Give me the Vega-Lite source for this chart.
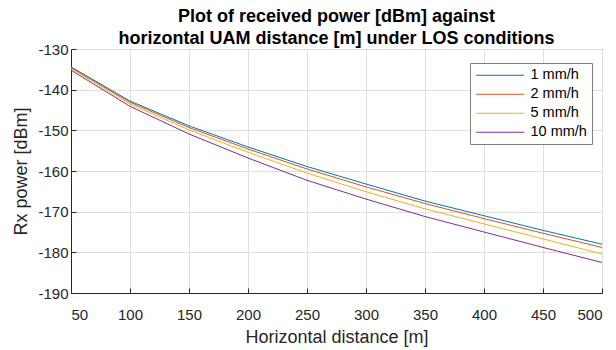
{
  "$schema": "https://vega.github.io/schema/vega-lite/v6.json",
  "width": 531,
  "height": 244,
  "autosize": {"type": "none"},
  "padding": {"left": 71, "top": 49, "right": 14, "bottom": 57},
  "background": "white",
  "title": {
    "text": ["Plot of received power [dBm] against", "horizontal UAM distance [m] under LOS conditions"],
    "font": "Liberation Sans",
    "fontSize": 18,
    "fontWeight": "bold",
    "color": "#000000",
    "anchor": "middle",
    "lineHeight": 22,
    "offset": -6
  },
  "config": {
    "font": "Liberation Sans",
    "view": {"stroke": "#262626", "strokeWidth": 1},
    "axis": {
      "gridColor": "#dfdfdf",
      "gridWidth": 1,
      "domainColor": "#262626",
      "tickColor": "#262626",
      "labelColor": "#262626",
      "titleColor": "#262626",
      "labelFont": "Liberation Sans",
      "titleFont": "Liberation Sans",
      "labelFontSize": 15,
      "titleFontSize": 18,
      "titleFontWeight": "normal",
      "tickSize": -5,
      "labelExpr": "datum.value + ''"
    }
  },
  "data": {
    "values": [
      {"d": 50, "p": -134.4, "rain": "1 mm/h"},
      {"d": 100, "p": -142.8, "rain": "1 mm/h"},
      {"d": 150, "p": -148.9, "rain": "1 mm/h"},
      {"d": 200, "p": -154.1, "rain": "1 mm/h"},
      {"d": 250, "p": -158.9, "rain": "1 mm/h"},
      {"d": 300, "p": -163.2, "rain": "1 mm/h"},
      {"d": 350, "p": -167.4, "rain": "1 mm/h"},
      {"d": 400, "p": -171.0, "rain": "1 mm/h"},
      {"d": 450, "p": -174.6, "rain": "1 mm/h"},
      {"d": 500, "p": -178.0, "rain": "1 mm/h"},
      {"d": 50, "p": -134.6, "rain": "2 mm/h"},
      {"d": 100, "p": -143.1, "rain": "2 mm/h"},
      {"d": 150, "p": -149.3, "rain": "2 mm/h"},
      {"d": 200, "p": -154.6, "rain": "2 mm/h"},
      {"d": 250, "p": -159.5, "rain": "2 mm/h"},
      {"d": 300, "p": -163.9, "rain": "2 mm/h"},
      {"d": 350, "p": -168.0, "rain": "2 mm/h"},
      {"d": 400, "p": -171.7, "rain": "2 mm/h"},
      {"d": 450, "p": -175.3, "rain": "2 mm/h"},
      {"d": 500, "p": -178.8, "rain": "2 mm/h"},
      {"d": 50, "p": -134.8, "rain": "5 mm/h"},
      {"d": 100, "p": -143.5, "rain": "5 mm/h"},
      {"d": 150, "p": -149.9, "rain": "5 mm/h"},
      {"d": 200, "p": -155.4, "rain": "5 mm/h"},
      {"d": 250, "p": -160.5, "rain": "5 mm/h"},
      {"d": 300, "p": -165.1, "rain": "5 mm/h"},
      {"d": 350, "p": -169.3, "rain": "5 mm/h"},
      {"d": 400, "p": -173.0, "rain": "5 mm/h"},
      {"d": 450, "p": -176.7, "rain": "5 mm/h"},
      {"d": 500, "p": -180.4, "rain": "5 mm/h"},
      {"d": 50, "p": -135.2, "rain": "10 mm/h"},
      {"d": 100, "p": -144.1, "rain": "10 mm/h"},
      {"d": 150, "p": -150.9, "rain": "10 mm/h"},
      {"d": 200, "p": -156.8, "rain": "10 mm/h"},
      {"d": 250, "p": -162.3, "rain": "10 mm/h"},
      {"d": 300, "p": -166.9, "rain": "10 mm/h"},
      {"d": 350, "p": -171.2, "rain": "10 mm/h"},
      {"d": 400, "p": -175.0, "rain": "10 mm/h"},
      {"d": 450, "p": -178.8, "rain": "10 mm/h"},
      {"d": 500, "p": -182.5, "rain": "10 mm/h"}
    ]
  },
  "mark": {"type": "line", "strokeWidth": 1, "clip": true},
  "encoding": {
    "x": {
      "field": "d",
      "type": "quantitative",
      "scale": {"domain": [50, 500], "nice": false, "zero": false},
      "axis": {
        "title": "Horizontal distance [m]",
        "values": [50, 100, 150, 200, 250, 300, 350, 400, 450, 500],
        "labelPadding": 19,
        "titlePadding": 6
      }
    },
    "y": {
      "field": "p",
      "type": "quantitative",
      "scale": {"domain": [-190, -130], "nice": false, "zero": false},
      "axis": {
        "title": "Rx power [dBm]",
        "values": [-190, -180, -170, -160, -150, -140, -130],
        "labelPadding": 8,
        "titlePadding": 7
      }
    },
    "color": {
      "field": "rain",
      "type": "nominal",
      "scale": {
        "domain": ["1 mm/h", "2 mm/h", "5 mm/h", "10 mm/h"],
        "range": ["#0072BD", "#D95319", "#EDB120", "#7E2F8E"]
      },
      "legend": {
        "title": null,
        "orient": "none",
        "legendX": 399,
        "legendY": 14,
        "symbolType": "M-1,0H7",
        "symbolSize": 144,
        "symbolStrokeWidth": 1,
        "labelFontSize": 14.5,
        "labelColor": "#000000",
        "labelOffset": 41,
        "rowPadding": 4,
        "padding": 5,
        "strokeColor": "#7f7f7f",
        "fillColor": "#ffffff"
      }
    }
  }
}
